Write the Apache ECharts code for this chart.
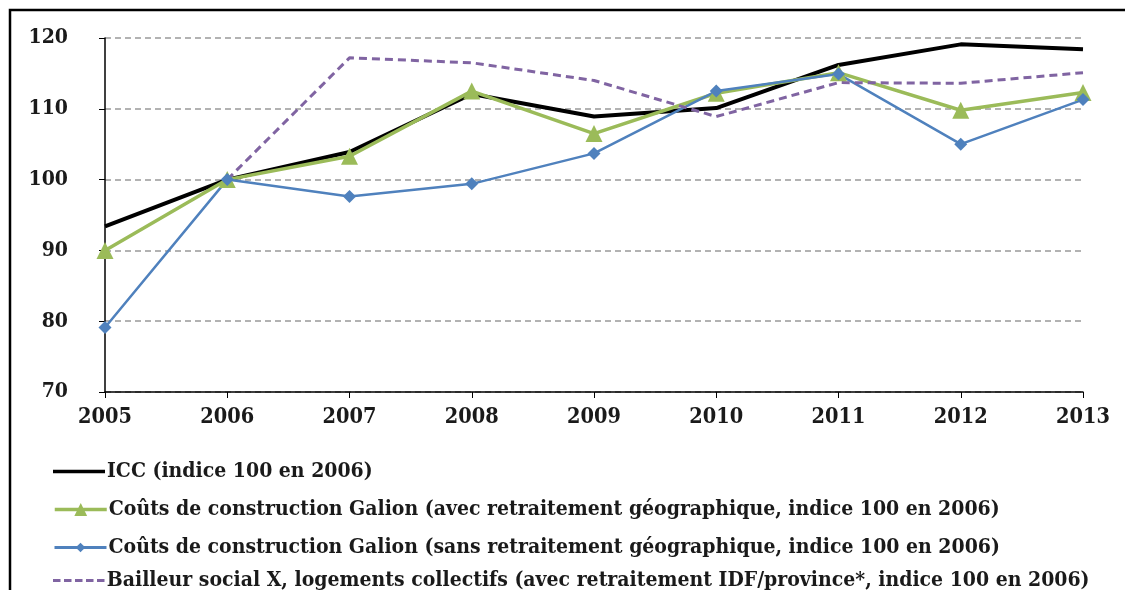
<!DOCTYPE html>
<html lang="fr">
<head>
    <meta charset="utf-8">
    <title>ICC et coûts de construction</title>
    <style>
        html, body { margin: 0; padding: 0; background: #fff; }
        #chart { width: 1125px; height: 590px; }
    </style>
</head>
<body>
    <div id="chart"></div>
    <script src="https://cdn.jsdelivr.net/npm/echarts@6/dist/echarts.min.js"></script>
    <script>
        var years = ["2005", "2006", "2007", "2008", "2009", "2010", "2011", "2012", "2013"];
        var icc = [93.4, 100, 103.9, 112.1, 108.9, 110.1, 116.2, 119.1, 118.4];
        var galionAvec = [90, 100, 103.3, 112.5, 106.5, 112.2, 115.1, 109.8, 112.3];
        var galionSans = [79.1, 100, 97.6, 99.4, 103.7, 112.5, 114.9, 105.0, 111.3];
        var bailleur = [null, 100, 117.2, 116.5, 114.0, 108.9, 113.7, 113.6, 115.1];
        var names = [
            "ICC (indice 100 en 2006)",
            "Coûts de construction Galion (avec retraitement géographique, indice 100 en 2006)",
            "Coûts de construction Galion (sans retraitement géographique, indice 100 en 2006)",
            "Bailleur social X, logements collectifs (avec retraitement IDF/province*, indice 100 en 2006)"
        ];

        var font = "'DejaVu Serif Condensed', 'DejaVu Serif', serif";
        var legendText = { fontFamily: font, fontWeight: "bold", fontSize: 21, color: "#1a1a1a", padding: [0, 0, 0, -3] };
        var dashIcon = "path://M0,0h7.5v3h-7.5z M11,0h7.5v3h-7.5z M22,0h7.5v3h-7.5z M33,0h7.5v3h-7.5z M44,0h7.5v3h-7.5z";

        // one legend per entry so each can have its own icon size
        function oneLegend(name, top, extra) {
            var l = {
                orient: "vertical", left: 53, top: top, padding: 0,
                itemWidth: 52, itemHeight: 14,
                lineStyle: { width: 3.5 },
                textStyle: legendText,
                data: [name]
            };
            for (var k in extra) l[k] = extra[k];
            return l;
        }

        var chart = echarts.init(document.getElementById("chart"));
        chart.setOption({
            animation: false,
            grid: { left: 105, right: 42, top: 38, bottom: 198 },
            graphic: [{
                type: "rect",
                shape: { x: 10, y: 10, width: 1200, height: 700 },
                style: { fill: "none", stroke: "#000", lineWidth: 2.5 }
            }],
            legend: [
                oneLegend(names[0], 461, { icon: "rect", itemHeight: 3.5 }),
                oneLegend(names[1], 499, { itemHeight: 16 }),
                oneLegend(names[2], 537, { itemHeight: 12, lineStyle: { width: 3 } }),
                oneLegend(names[3], 570, { icon: dashIcon, itemHeight: 3 })
            ],
            xAxis: {
                type: "category",
                data: years,
                boundaryGap: false,
                axisLine: { lineStyle: { color: "#000", width: 1.5 } },
                axisTick: { length: 6, lineStyle: { color: "#000" } },
                axisLabel: { fontFamily: font, fontWeight: "bold", fontSize: 21.5, color: "#1a1a1a", margin: 14 }
            },
            yAxis: {
                type: "value",
                min: 70,
                max: 120,
                interval: 10,
                axisLine: { show: true, lineStyle: { color: "#000", width: 1.5 } },
                axisTick: { show: true, length: 6, lineStyle: { color: "#000" } },
                axisLabel: { fontFamily: font, fontWeight: "bold", fontSize: 21, color: "#1a1a1a", margin: 37 },
                splitLine: { lineStyle: { color: "#999", width: 1.5, type: [6, 4] } }
            },
            series: [
                {
                    name: names[0], type: "line", data: icc, symbol: "none",
                    lineStyle: { color: "#000", width: 4 }, itemStyle: { color: "#000" }
                },
                {
                    name: names[1], type: "line", data: galionAvec, symbol: "triangle", symbolSize: 17,
                    lineStyle: { color: "#9BBB59", width: 3.5 }, itemStyle: { color: "#9BBB59" }
                },
                {
                    name: names[2], type: "line", data: galionSans, symbol: "diamond", symbolSize: 13,
                    lineStyle: { color: "#4F81BD", width: 2.5 }, itemStyle: { color: "#4F81BD" }
                },
                {
                    name: names[3], type: "line", data: bailleur, symbol: "none",
                    lineStyle: { color: "#8064A2", width: 3, type: [8, 5] }, itemStyle: { color: "#8064A2" }
                }
            ]
        });
    </script>
</body>
</html>
